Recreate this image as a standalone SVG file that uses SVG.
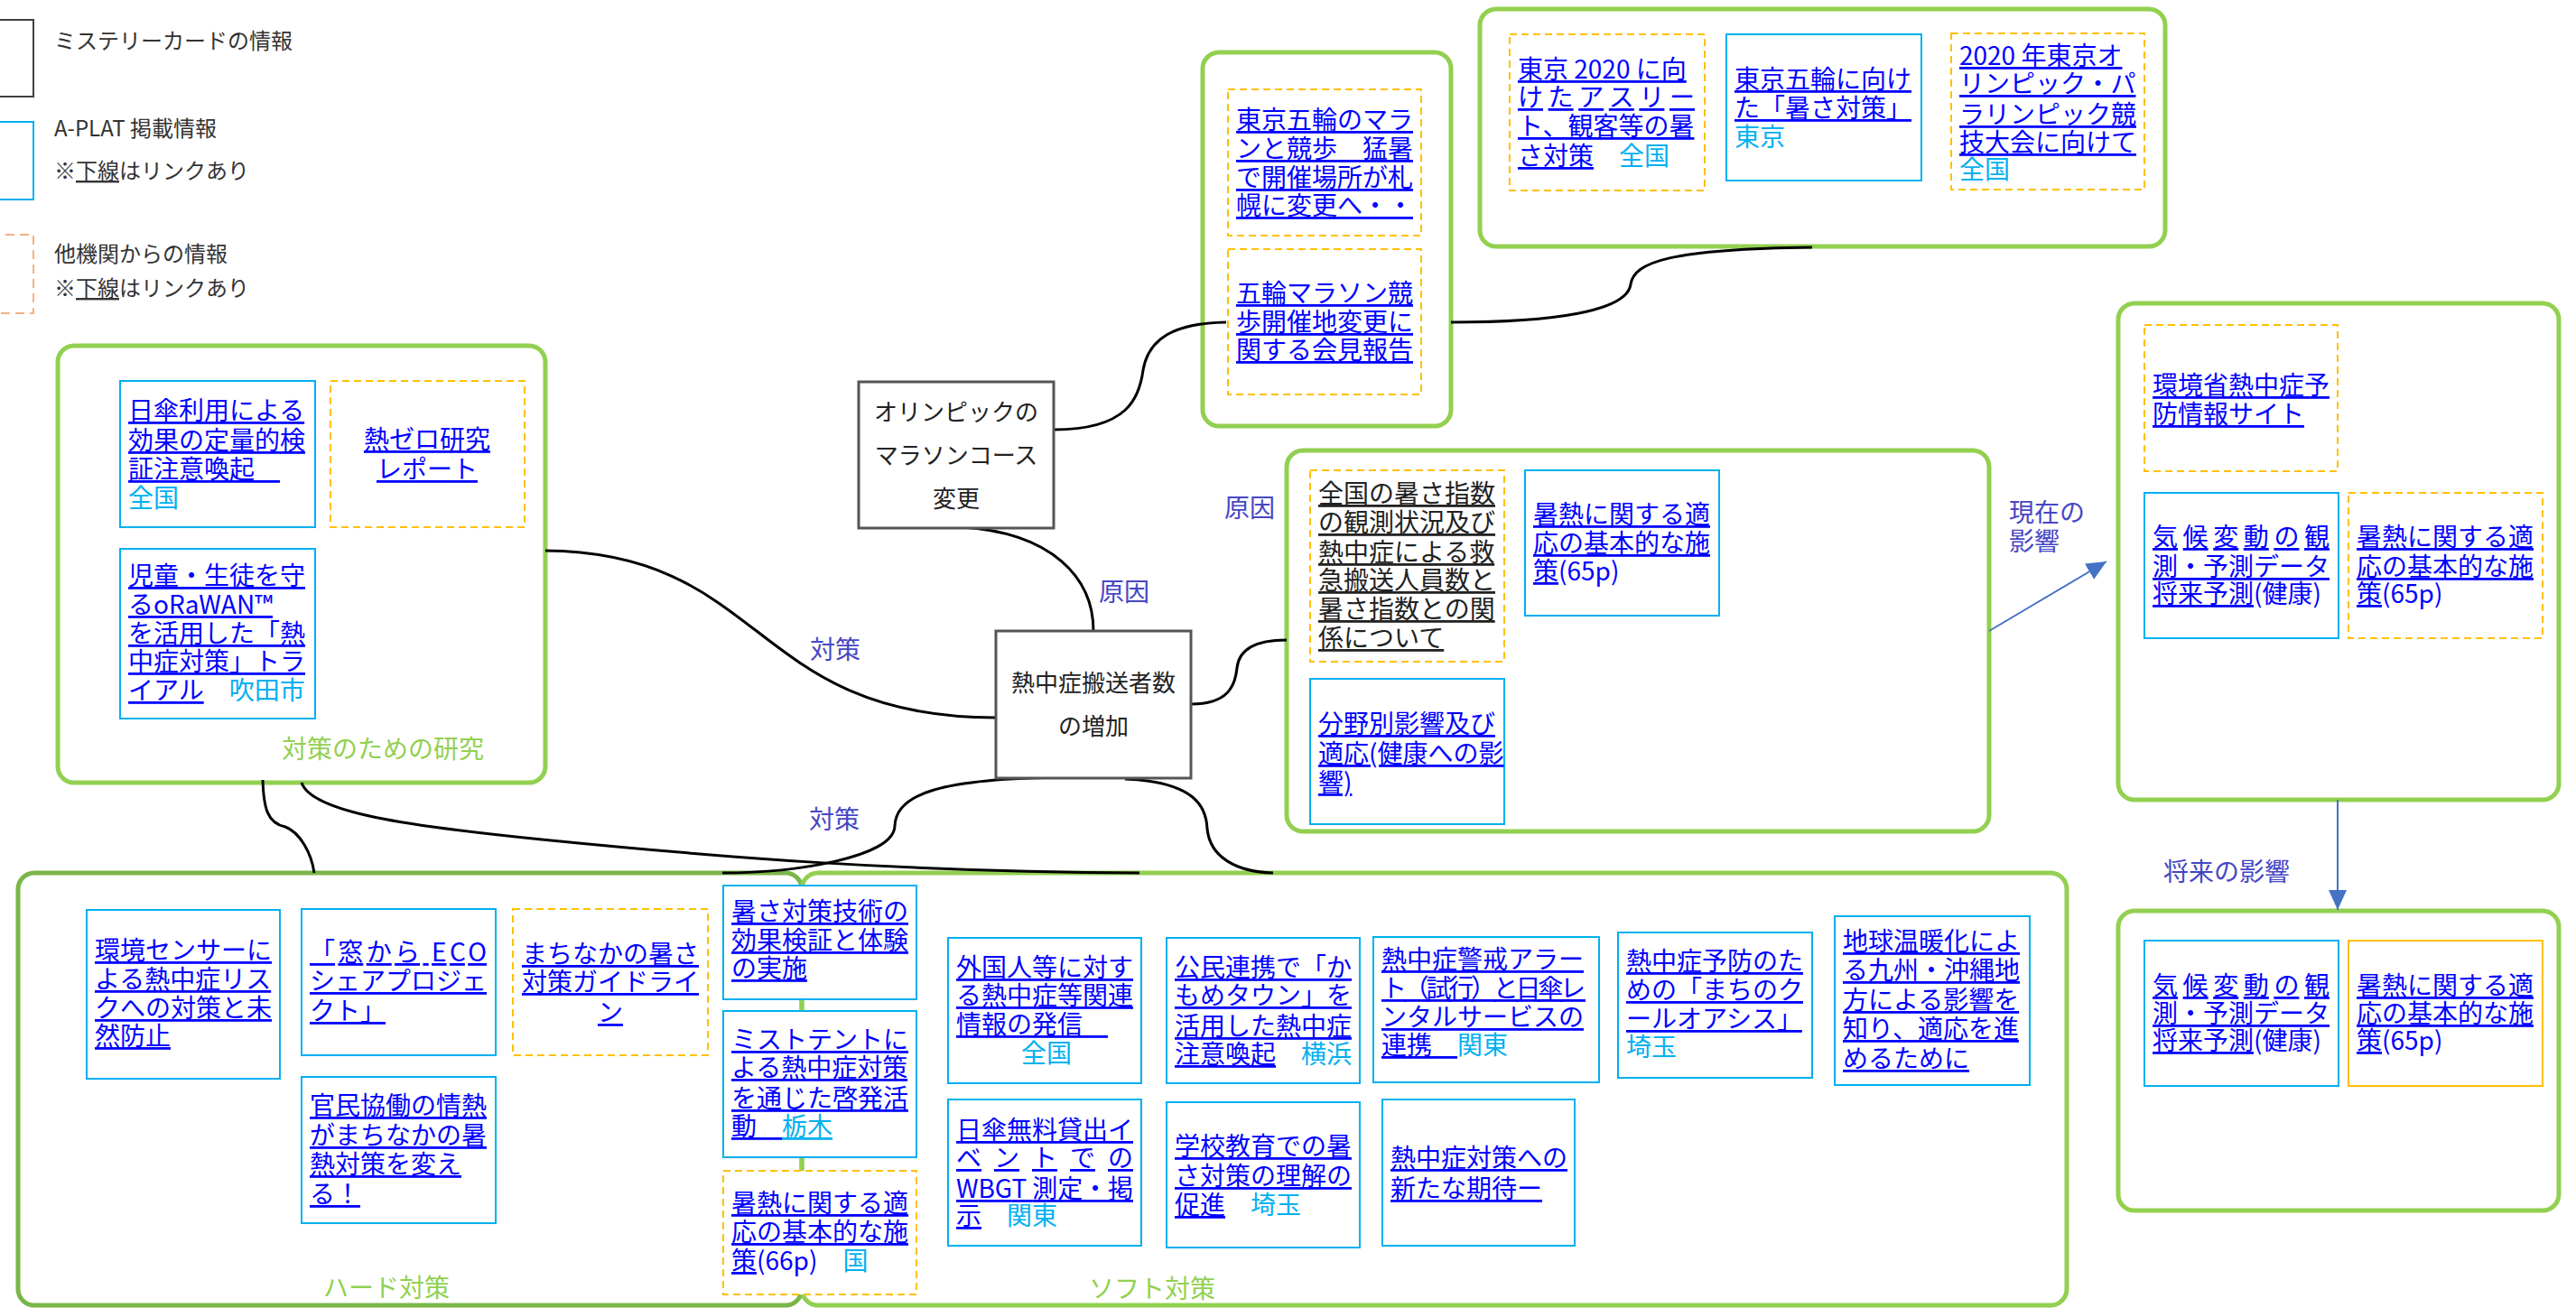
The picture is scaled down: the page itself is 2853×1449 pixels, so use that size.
<svg xmlns="http://www.w3.org/2000/svg" width="2853" height="1449" viewBox="0 0 2853 1449">
<style>
text{font-family:"Noto Sans CJK JP","Noto Sans",sans-serif;font-size:28px;fill:#0000FF}
.u{text-decoration:underline;fill:#0000FF}
.ub{text-decoration:underline;fill:#222}
.cy{fill:#00B0F0}
.bk{fill:#222}
.lg{font-size:24px;fill:#333}
.lbl{fill:#4646C4}
.gl{fill:#92D050}
.mc{font-size:26px;fill:#222;text-anchor:middle}
.c{text-anchor:middle}
.grp{fill:none;stroke:#92D050;stroke-width:5}
.bl{fill:#fff;stroke:#00B0F0;stroke-width:2}
.or{fill:#fff;stroke:#FFC000;stroke-width:2;stroke-dasharray:8 5}
.ors{fill:#fff;stroke:#FFC000;stroke-width:2}
.my{fill:#fff;stroke:#555;stroke-width:3}
.cn{fill:none;stroke:#000;stroke-width:3}
.ar{fill:none;stroke:#4472C4;stroke-width:2}
</style>
<defs>
<marker id="ah" markerUnits="userSpaceOnUse" markerWidth="24" markerHeight="20" refX="22" refY="10" orient="auto">
<path d="M0,0 L22,10 L0,20 Z" fill="#4472C4"/>
</marker>
</defs>

<g id="legend">
<rect x="-10" y="22" width="47" height="85" fill="none" stroke="#404040" stroke-width="2"/>
<text class="lg" x="60" y="54">ミステリーカードの情報</text>
<rect x="-10" y="135" width="47" height="86" fill="none" stroke="#00B0F0" stroke-width="2"/>
<text class="lg" x="60" y="151">A-PLAT 掲載情報</text>
<text class="lg" x="60" y="198">※<tspan style="text-decoration:underline">下線</tspan>はリンクあり</text>
<rect x="-10" y="260" width="47" height="87" fill="none" stroke="#F4B183" stroke-width="2" stroke-dasharray="10 6"/>
<text class="lg" x="60" y="290">他機関からの情報</text>
<text class="lg" x="60" y="328">※<tspan style="text-decoration:underline">下線</tspan>はリンクあり</text>
</g>

<!-- groups -->
<g id="group-research">
<rect class="grp" x="64" y="383" width="540" height="484" rx="18"/>
<text class="gl" x="312" y="840">対策のための研究</text>
</g>
<g id="group-marathon"><rect class="grp" x="1332" y="58" width="275" height="414" rx="18"/></g>
<g id="group-tokyo2020"><rect class="grp" x="1639" y="10" width="759" height="263" rx="18"/></g>
<g id="group-cause"><rect class="grp" x="1425" y="499" width="778" height="422" rx="18"/></g>
<g id="group-current"><rect class="grp" x="2346" y="336" width="488" height="550" rx="18"/></g>
<g id="group-future"><rect class="grp" x="2346" y="1009" width="488" height="332" rx="18"/></g>
<g id="group-hard">
<rect class="grp" x="20" y="967" width="868" height="479" rx="18" style="stroke:#7AB648"/>
<text class="gl" x="358" y="1437">ハード対策</text>
</g>
<g id="group-soft">
<rect class="grp" x="888" y="967" width="1401" height="479" rx="18"/>
<text class="gl" x="1206" y="1438">ソフト対策</text>
</g>

<!-- connectors -->
<g id="connectors">
<path class="cn" d="M604,610 C850,612 830,795 1103,795"/>
<path class="cn" d="M1065,584 C1165,590 1211,640 1211,699"/>
<path class="cn" d="M1167,476 C1250,476 1262,440 1266,410 C1272,375 1300,358 1358,357"/>
<path class="cn" d="M1319,780 C1360,780 1368,760 1370,740 C1372,720 1390,709 1425,709"/>
<path class="cn" d="M2007,274 C1850,276 1810,290 1806,315 C1802,345 1720,357 1607,357"/>
<path class="cn" d="M291,864 C292,895 296,912 316,916 C332,922 345,945 348,967"/>
<path class="cn" d="M334,867 C345,900 450,915 600,930 C800,950 1000,966 1262,967"/>
<path class="cn" d="M1183,861 C1040,862 992,880 991,915 C990,950 880,967 800,967"/>
<path class="cn" d="M1246,863 C1325,866 1336,895 1337,918 C1340,950 1370,966 1410,967"/>
<path class="ar" d="M2203,699 L2333,622" marker-end="url(#ah)"/>
<path class="ar" d="M2589,886 L2589,1008" marker-end="url(#ah)"/>
<text class="lbl" x="897" y="730">対策</text>
<text class="lbl" x="1217" y="666">原因</text>
<text class="lbl" x="896" y="918">対策</text>
<text class="lbl" x="1356" y="573">原因</text>
<text class="lbl" x="2225" y="578">現在の</text>
<text class="lbl" x="2225" y="610">影響</text>
<text class="lbl" x="2396" y="976">将来の影響</text>
</g>

<!-- mystery nodes -->
<g id="node-olympic">
<rect class="my" x="951" y="423" width="216" height="162"/>
<text class="mc" x="1059" y="466">オリンピックの</text>
<text class="mc" x="1059" y="514">マラソンコース</text>
<text class="mc" x="1059" y="562">変更</text>
</g>
<g id="node-heatstroke">
<rect class="my" x="1103" y="699" width="216" height="163"/>
<text class="mc" x="1211" y="766">熱中症搬送者数</text>
<text class="mc" x="1211" y="814">の増加</text>
</g>

<!-- research -->
<g id="node-r1">
<rect class="bl" x="133" y="422" width="216" height="162"/>
<text x="142" y="465" class="u">日傘利用による</text>
<text x="142" y="498" class="u">効果の定量的検</text>
<text x="142" y="530" class="u">証注意喚起　</text>
<text x="142" y="562" class="cy">全国</text>
</g>
<g id="node-r2">
<rect class="or" x="366" y="422" width="215" height="162"/>
<text x="473" y="497" class="u c">熱ゼロ研究</text>
<text x="473" y="530" class="u c">レポート</text>
</g>
<g id="node-r3">
<rect class="bl" x="133" y="608" width="216" height="188"/>
<text x="142" y="648" class="u">児童・生徒を守</text>
<text x="142" y="680" class="u">るoRaWAN™</text>
<text x="142" y="712" class="u">を活用した「熱</text>
<text x="142" y="743" class="u">中症対策」トラ</text>
<text x="142" y="775"><tspan class="u">イアル</tspan><tspan class="cy">　吹田市</tspan></text>
</g>

<!-- marathon -->
<g id="node-m1">
<rect class="or" x="1360" y="99" width="214" height="162"/>
<text x="1369" y="143" class="u">東京五輪のマラ</text>
<text x="1369" y="175" class="u">ンと競歩　猛暑</text>
<text x="1369" y="207" class="u">で開催場所が札</text>
<text x="1369" y="238" class="u">幌に変更へ・・</text>
</g>
<g id="node-m2">
<rect class="or" x="1360" y="276" width="214" height="161"/>
<text x="1467" y="335" class="u c">五輪マラソン競</text>
<text x="1467" y="367" class="u c">歩開催地変更に</text>
<text x="1467" y="398" class="u c">関する会見報告</text>
</g>

<!-- tokyo 2020 -->
<g id="node-t1">
<rect class="or" x="1672" y="38" width="216" height="173"/>
<text x="1681" y="87" class="u">東京 2020 に向</text>
<text x="1681" y="118" class="u" textLength="196" lengthAdjust="spacing">けたアスリー</text>
<text x="1681" y="150" class="u">ト、観客等の暑</text>
<text x="1681" y="183"><tspan class="u">さ対策</tspan><tspan class="cy">　全国</tspan></text>
</g>
<g id="node-t2">
<rect class="bl" x="1912" y="38" width="216" height="162"/>
<text x="1921" y="98" class="u">東京五輪に向け</text>
<text x="1921" y="130" class="u">た「暑さ対策」</text>
<text x="1921" y="162" class="cy">東京</text>
</g>
<g id="node-t3">
<rect class="or" x="2161" y="37" width="214" height="173"/>
<text x="2170" y="72" class="u">2020 年東京オ</text>
<text x="2170" y="103" class="u">リンピック・パ</text>
<text x="2170" y="137" class="u">ラリンピック競</text>
<text x="2170" y="168" class="u">技大会に向けて</text>
<text x="2170" y="198" class="cy">全国</text>
</g>

<!-- cause -->
<g id="node-c1">
<rect class="or" x="1451" y="521" width="215" height="212"/>
<text x="1460" y="557" class="ub">全国の暑さ指数</text>
<text x="1460" y="589" class="ub">の観測状況及び</text>
<text x="1460" y="622" class="ub">熱中症による救</text>
<text x="1460" y="653" class="ub">急搬送人員数と</text>
<text x="1460" y="685" class="ub">暑さ指数との関</text>
<text x="1460" y="717" class="ub">係について</text>
</g>
<g id="node-c2">
<rect class="bl" x="1689" y="521" width="215" height="161"/>
<text x="1698" y="580" class="u">暑熱に関する適</text>
<text x="1698" y="612" class="u">応の基本的な施</text>
<text x="1698" y="643"><tspan class="u">策</tspan>(65p)</text>
</g>
<g id="node-c3">
<rect class="bl" x="1451" y="752" width="215" height="161"/>
<text x="1460" y="812" class="u">分野別影響及び</text>
<text x="1460" y="845" class="u">適応(健康への影</text>
<text x="1460" y="877" class="u">響)</text>
</g>

<!-- current impact -->
<g id="node-i1">
<rect class="or" x="2375" y="360" width="214" height="162"/>
<text x="2384" y="437" class="u">環境省熱中症予</text>
<text x="2384" y="469" class="u">防情報サイト</text>
</g>
<g id="node-i2">
<rect class="bl" x="2375" y="546" width="215" height="161"/>
<text x="2384" y="605" class="u" textLength="196" lengthAdjust="spacing">気候変動の観</text>
<text x="2384" y="638" class="u">測・予測データ</text>
<text x="2384" y="668"><tspan class="u">将来予測</tspan>(健康)</text>
</g>
<g id="node-i3">
<rect class="or" x="2601" y="546" width="215" height="161"/>
<text x="2610" y="605" class="u">暑熱に関する適</text>
<text x="2610" y="638" class="u">応の基本的な施</text>
<text x="2610" y="668"><tspan class="u">策</tspan>(65p)</text>
</g>

<!-- future impact -->
<g id="node-f1">
<rect class="bl" x="2375" y="1042" width="215" height="161"/>
<text x="2384" y="1102" class="u" textLength="196" lengthAdjust="spacing">気候変動の観</text>
<text x="2384" y="1133" class="u">測・予測データ</text>
<text x="2384" y="1163"><tspan class="u">将来予測</tspan>(健康)</text>
</g>
<g id="node-f2">
<rect class="ors" x="2601" y="1042" width="215" height="161"/>
<text x="2610" y="1102" class="u">暑熱に関する適</text>
<text x="2610" y="1133" class="u">応の基本的な施</text>
<text x="2610" y="1163"><tspan class="u">策</tspan>(65p)</text>
</g>

<!-- hard measures -->
<g id="node-h1">
<rect class="bl" x="96" y="1008" width="214" height="187"/>
<text x="105" y="1063" class="u">環境センサーに</text>
<text x="105" y="1095" class="u">よる熱中症リス</text>
<text x="105" y="1127" class="u">クへの対策と未</text>
<text x="105" y="1158" class="u">然防止</text>
</g>
<g id="node-h2">
<rect class="bl" x="334" y="1007" width="215" height="162"/>
<text x="343" y="1065" class="u" textLength="196" lengthAdjust="spacing">「窓から ECO</text>
<text x="343" y="1097" class="u">シェアプロジェ</text>
<text x="343" y="1130" class="u">クト」</text>
</g>
<g id="node-h3">
<rect class="or" x="568" y="1007" width="216" height="162"/>
<text x="676" y="1067" class="u c">まちなかの暑さ</text>
<text x="676" y="1098" class="u c">対策ガイドライ</text>
<text x="676" y="1132" class="u c">ン</text>
</g>
<g id="node-h4">
<rect class="bl" x="334" y="1193" width="215" height="162"/>
<text x="343" y="1235" class="u">官民協働の情熱</text>
<text x="343" y="1268" class="u">がまちなかの暑</text>
<text x="343" y="1300" class="u">熱対策を変え</text>
<text x="343" y="1333" class="u">る！</text>
</g>
<g id="node-h5">
<rect class="bl" x="801" y="981" width="214" height="126"/>
<text x="810" y="1020" class="u">暑さ対策技術の</text>
<text x="810" y="1052" class="u">効果検証と体験</text>
<text x="810" y="1083" class="u">の実施</text>
</g>
<g id="node-h6">
<rect class="bl" x="801" y="1120" width="214" height="162"/>
<text x="810" y="1162" class="u">ミストテントに</text>
<text x="810" y="1193" class="u">よる熱中症対策</text>
<text x="810" y="1227" class="u">を通じた啓発活</text>
<text x="810" y="1258"><tspan class="u">動　</tspan><tspan class="u" style="fill:#00B0F0">栃木</tspan></text>
</g>
<g id="node-h7">
<rect class="or" x="801" y="1297" width="214" height="137"/>
<text x="810" y="1343" class="u">暑熱に関する適</text>
<text x="810" y="1375" class="u">応の基本的な施</text>
<text x="810" y="1407"><tspan class="u">策</tspan>(66p)<tspan class="cy">　国</tspan></text>
</g>

<!-- soft measures -->
<g id="node-s1">
<rect class="bl" x="1050" y="1039" width="214" height="161"/>
<text x="1059" y="1082" class="u">外国人等に対す</text>
<text x="1059" y="1113" class="u">る熱中症等関連</text>
<text x="1059" y="1145" class="u">情報の発信　</text>
<text x="1131" y="1177" class="cy">全国</text>
</g>
<g id="node-s2">
<rect class="bl" x="1292" y="1039" width="214" height="161"/>
<text x="1301" y="1082" class="u">公民連携で「か</text>
<text x="1301" y="1113" class="u">もめタウン」を</text>
<text x="1301" y="1147" class="u">活用した熱中症</text>
<text x="1301" y="1178"><tspan class="u">注意喚起</tspan><tspan class="cy">　横浜</tspan></text>
</g>
<g id="node-s3">
<rect class="bl" x="1521" y="1038" width="250" height="161"/>
<text x="1530" y="1073" class="u">熱中症警戒アラー</text>
<text x="1530" y="1105" class="u" textLength="226" lengthAdjust="spacing">ト（試行）と日傘レ</text>
<text x="1530" y="1137" class="u">ンタルサービスの</text>
<text x="1530" y="1168"><tspan class="u">連携　</tspan><tspan class="cy">関東</tspan></text>
</g>
<g id="node-s4">
<rect class="bl" x="1792" y="1033" width="215" height="161"/>
<text x="1801" y="1075" class="u">熱中症予防のた</text>
<text x="1801" y="1107" class="u">めの「まちのク</text>
<text x="1801" y="1139" class="u">ールオアシス」</text>
<text x="1801" y="1170" class="cy">埼玉</text>
</g>
<g id="node-s5">
<rect class="bl" x="2032" y="1015" width="216" height="187"/>
<text x="2041" y="1053" class="u">地球温暖化によ</text>
<text x="2041" y="1085" class="u">る九州・沖縄地</text>
<text x="2041" y="1118" class="u">方による影響を</text>
<text x="2041" y="1150" class="u">知り、適応を進</text>
<text x="2041" y="1183" class="u">めるために</text>
</g>
<g id="node-s6">
<rect class="bl" x="1050" y="1218" width="214" height="162"/>
<text x="1059" y="1262" class="u">日傘無料貸出イ</text>
<text x="1059" y="1293" class="u" textLength="196" lengthAdjust="spacing">ベントでの</text>
<text x="1059" y="1327" class="u" textLength="196" lengthAdjust="spacing">WBGT 測定・掲</text>
<text x="1059" y="1357"><tspan class="u">示</tspan><tspan class="cy">　関東</tspan></text>
</g>
<g id="node-s7">
<rect class="bl" x="1292" y="1221" width="214" height="161"/>
<text x="1301" y="1280" class="u">学校教育での暑</text>
<text x="1301" y="1313" class="u">さ対策の理解の</text>
<text x="1301" y="1345"><tspan class="u">促進</tspan><tspan class="cy">　埼玉</tspan></text>
</g>
<g id="node-s8">
<rect class="bl" x="1531" y="1218" width="213" height="162"/>
<text x="1540" y="1293" class="u">熱中症対策への</text>
<text x="1540" y="1327" class="u">新たな期待ー</text>
</g>
</svg>
